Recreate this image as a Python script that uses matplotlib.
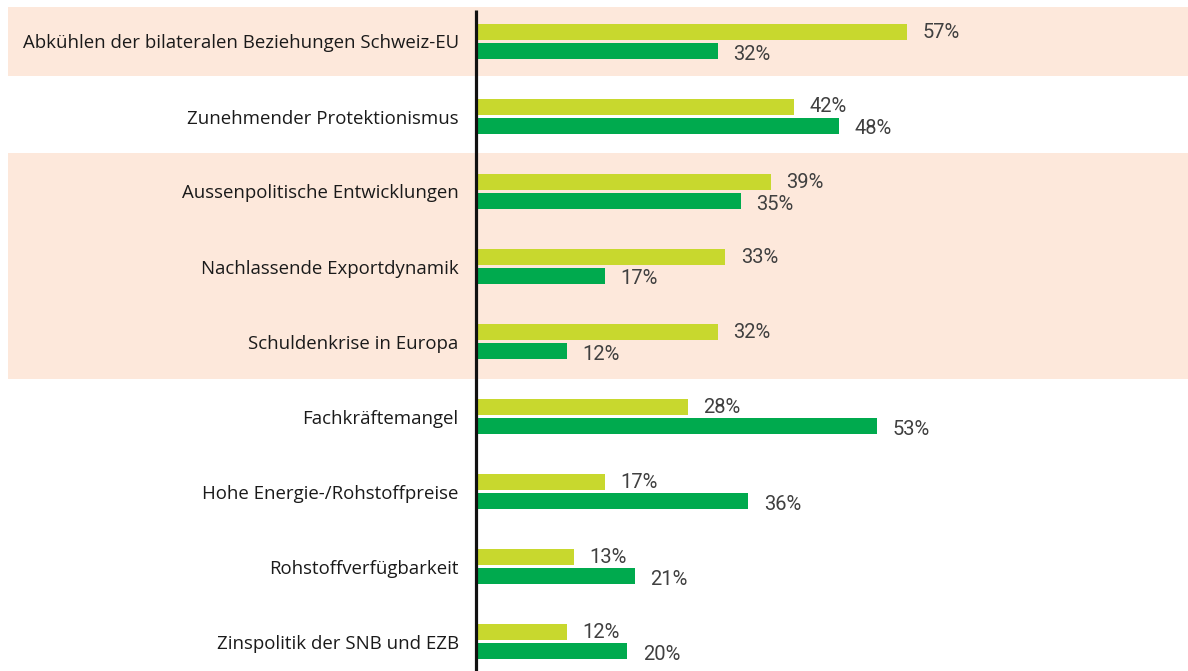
import matplotlib
matplotlib.use("Agg")
import matplotlib.pyplot as plt
from matplotlib.patches import Rectangle
from matplotlib.transforms import blended_transform_factory

categories = [
    "Abkühlen der bilateralen Beziehungen Schweiz-EU",
    "Zunehmender Protektionismus",
    "Aussenpolitische Entwicklungen",
    "Nachlassende Exportdynamik",
    "Schuldenkrise in Europa",
    "Fachkräftemangel",
    "Hohe Energie-/Rohstoffpreise",
    "Rohstoffverfügbarkeit",
    "Zinspolitik der SNB und EZB",
]
series_light = [57, 42, 39, 33, 32, 28, 17, 13, 12]
series_dark = [32, 48, 35, 17, 12, 53, 36, 21, 20]
highlight_rows = [(0, 0), (2, 4)]

LIGHT = "#C8D82E"
DARK = "#00AA4E"
BAND = "#FDE8DB"

W, H = 1188, 671
fig = plt.figure(figsize=(W / 100, H / 100), dpi=100)
ax_left = 476 / W
ax = fig.add_axes([ax_left, 0, 1 - ax_left, 1])
ax.patch.set_visible(False)

px_per_unit = 7.56
ax.set_xlim(0, (W - 476) / px_per_unit)
pitch = 75.0
c0 = 41.5
ax.set_ylim((H - c0) / pitch, -c0 / pitch)

n = len(categories)
ys = list(range(n))
bh = 16 / pitch
off = 9.5 / pitch

ax.barh([y - off for y in ys], series_light, height=bh, color=LIGHT, zorder=2)
ax.barh([y + off for y in ys], series_dark, height=bh, color=DARK, zorder=2)

tr = blended_transform_factory(fig.transFigure, ax.transData)
for a, b in highlight_rows:
    if a == 0 and b == 0:
        top, bot = a - 34.5 / pitch, b + 34.5 / pitch
    else:
        top, bot = a - 38.5 / pitch, b + 37.5 / pitch
    ax.add_patch(Rectangle((8 / W, top), 1 - 8 / W, bot - top, transform=tr,
                           facecolor=BAND, edgecolor="none", clip_on=False, zorder=0))

ax.vlines(0, -(c0 - 10) / pitch, (H - c0) / pitch, color="#111111", lw=2.3, zorder=3, clip_on=False)

dx = 15.5 / px_per_unit
for y, v in zip(ys, series_light):
    ax.text(v + dx, y - off, f"{v}%", va="center", ha="left", fontsize=14.5,
            color="#404040", family="Roboto", fontweight="normal")
for y, v in zip(ys, series_dark):
    ax.text(v + dx, y + off + 3 / pitch, f"{v}%", va="center", ha="left", fontsize=14.5,
            color="#404040", family="Roboto", fontweight="normal")

ax.set_yticks(ys)
ax.set_yticklabels(categories, fontsize=13.4, color="#1a1a1a", family="Open Sans")
ax.tick_params(axis="y", length=0, pad=12.5)
ax.set_xticks([])
for s in ax.spines.values():
    s.set_visible(False)

fig.savefig("out.png", dpi=100)
